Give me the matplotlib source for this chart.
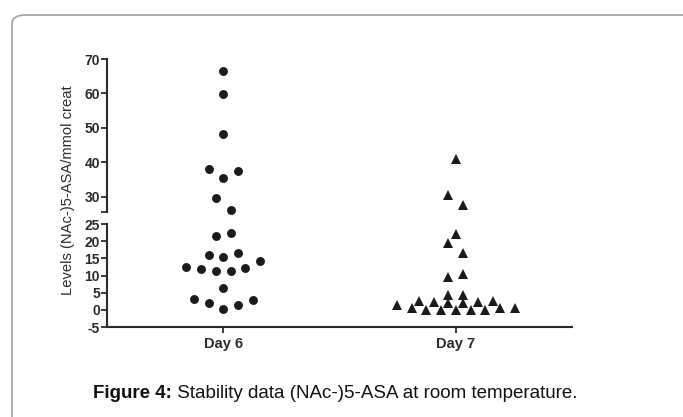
import numpy as np
import matplotlib
matplotlib.use('Agg')
from matplotlib import pyplot as plt
from matplotlib.patches import FancyBboxPatch

plt.rcParams['font.family'] = ['Liberation Sans', 'DejaVu Sans']

## Data
groups = ['Day 6', 'Day 7']

day6_vals = [66.5, 59.8, 48.2, 38.0, 37.3, 35.3, 29.6, 26.0,
             21.6, 22.3, 15.9, 15.3, 16.7, 14.3, 12.5, 12.0, 11.2, 11.3, 12.1,
             6.3, 3.1, 2.0, 0.2, 1.4, 2.9]
# horizontal slot of each point (half marker widths, as in the dot plot)
day6_slot = [0, 0, 0, -2, 2, 0, -1, 1,
             -1, 1, -2, 0, 2, 5, -5, -3, -1, 1, 3,
             0, -4, -2, 0, 2, 4]

day7_vals = [40.8, 30.3, 27.4,
             22.0, 19.4, 16.6, 9.6, 10.3, 4.4, 4.4,
             1.5, 2.6, 2.2, 2.1, 1.9, 2.2, 2.5,
             0.4, 0.0, -0.1, -0.1, -0.1, -0.1, 0.4, 0.4]
day7_slot = [0, -1, 1,
             0, -1, 1, -1, 1, -1, 1,
             -8, -5, -3, -1, 1, 3, 5,
             -6, -4, -2, 0, 2, 4, 6, 8]

upper_ticks = [30, 40, 50, 60, 70]
lower_ticks = [-5, 0, 5, 10, 15, 20, 25]
brk = 25.5   # bottom of the upper segment

slot_w = 0.0317
col = '#1a1a1a'
axcol = '#2b2b2b'

fig = plt.figure(figsize=(6.83, 4.17), dpi=100)

# frame around the figure panel
frame = FancyBboxPatch((0.0176, -0.2), 1.2, 1.164, transform=fig.transFigure,
                       boxstyle='round,pad=0,rounding_size=0.02', fill=False,
                       edgecolor='#a0a0a0', linewidth=1.2)
fig.patches.append(frame)

ax_lo = fig.add_axes([0.1567, 0.2158, 0.681, 0.247])
ax_hi = fig.add_axes([0.1567, 0.4916, 0.681, 0.3669])

x6 = 1 + np.array(day6_slot) * slot_w
x7 = 2 + np.array(day7_slot) * slot_w
v6 = np.array(day6_vals)
v7 = np.array(day7_vals)

for ax, sel in ((ax_lo, lambda v: v < brk), (ax_hi, lambda v: v >= brk)):
    m6 = sel(v6)
    m7 = sel(v7)
    ax.plot(x6[m6], v6[m6], 'o', color=col, markersize=6.4, markeredgewidth=0, clip_on=False)
    ax.plot(x7[m7], v7[m7], '^', color=col, markersize=6.6, markeredgewidth=0, clip_on=False)
    ax.set_xlim(0.5, 2.5)
    ax.spines['top'].set_visible(False)
    ax.spines['right'].set_visible(False)
    ax.spines['left'].set_linewidth(1.5)
    ax.spines['left'].set_color(axcol)
    ax.tick_params(axis='y', direction='out', length=4, width=1.3, color=axcol,
                   labelsize=10, pad=1)

ax_lo.set_ylim(-5, 25)
ax_lo.set_yticks(lower_ticks)
ax_lo.set_yticklabels([str(t) for t in lower_ticks], fontweight='bold', color=axcol)
ax_lo.spines['bottom'].set_linewidth(1.5)
ax_lo.spines['bottom'].set_color(axcol)
ax_lo.set_xticks([1, 2])
ax_lo.set_xticklabels(groups, fontweight='bold', fontsize=10.5, color=axcol)
ax_lo.tick_params(axis='x', direction='out', length=4, width=1.3, color=axcol, pad=3)

ax_hi.set_ylim(brk, 70)
ax_hi.set_yticks(upper_ticks + [brk])
ax_hi.set_yticklabels([str(t) for t in upper_ticks] + [''], fontweight='bold', color=axcol)
ax_hi.spines['bottom'].set_visible(False)
ax_hi.set_xticks([])

fig.text(0.1, 0.545, 'Levels (NAc-)5-ASA/mmol creat', rotation=90, ha='center',
         va='center', fontsize=10.6, color=axcol)

# caption
t1 = fig.text(93 / 683, 1 - 393 / 417, 'Figure 4:', fontsize=13.5, fontweight='bold',
              va='center', ha='left', color='#111111')
ax_lo.annotate(' Stability data (NAc-)5-ASA at room temperature.', xy=(1, 0),
               xycoords=t1, va='bottom', ha='left', fontsize=13.5, color='#111111',
               annotation_clip=False)

fig.savefig('out.png', dpi=100)
